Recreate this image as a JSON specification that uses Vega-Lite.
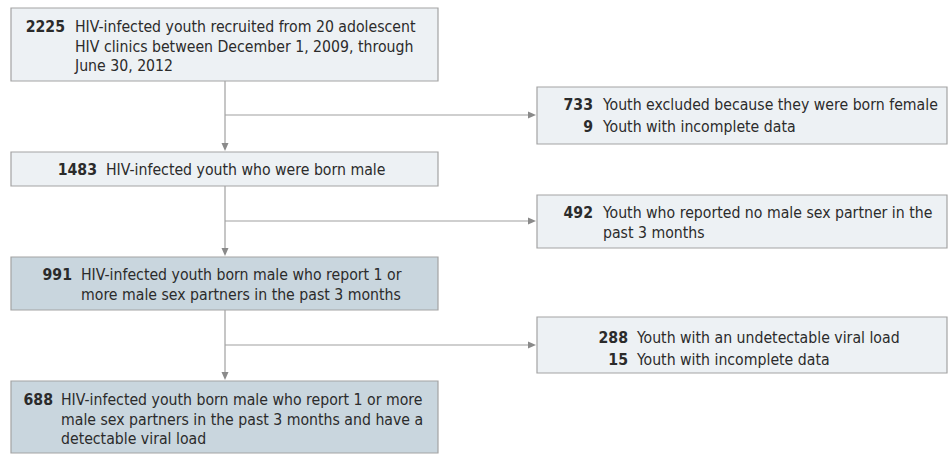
{
  "$schema": "https://vega.github.io/schema/vega-lite/v6.json",
  "width": 952,
  "height": 454,
  "autosize": {"type": "fit", "contains": "padding"},
  "padding": 0,
  "background": "white",
  "config": {"view": {"stroke": null}},
  "datasets": {
    "boxes": [
      {"id": "recruited", "x": 11, "x2": 438, "y": 8, "y2": 81, "tone": "light"},
      {"id": "male", "x": 11, "x2": 438, "y": 152, "y2": 186, "tone": "light"},
      {"id": "msm", "x": 11, "x2": 438, "y": 257, "y2": 310, "tone": "dark"},
      {"id": "final", "x": 11, "x2": 438, "y": 381, "y2": 453, "tone": "dark"},
      {"id": "excl1", "x": 537, "x2": 947, "y": 87, "y2": 144, "tone": "light"},
      {"id": "excl2", "x": 537, "x2": 947, "y": 195, "y2": 248, "tone": "light"},
      {"id": "excl3", "x": 537, "x2": 947, "y": 317, "y2": 373, "tone": "light"}
    ],
    "links": [
      {"x": 225, "x2": 225, "y": 81, "y2": 146},
      {"x": 225, "x2": 225, "y": 186, "y2": 251},
      {"x": 225, "x2": 225, "y": 310, "y2": 375},
      {"x": 225, "x2": 530, "y": 115, "y2": 115},
      {"x": 225, "x2": 530, "y": 221, "y2": 221},
      {"x": 225, "x2": 530, "y": 345, "y2": 345}
    ],
    "heads": [
      {"x": 225, "y": 151, "dir": "down"},
      {"x": 225, "y": 256, "dir": "down"},
      {"x": 225, "y": 380, "dir": "down"},
      {"x": 536, "y": 115, "dir": "right"},
      {"x": 536, "y": 221, "dir": "right"},
      {"x": 536, "y": 345, "dir": "right"}
    ],
    "counts": [
      {"x": 65, "y": 32, "n": "2225"},
      {"x": 97, "y": 175, "n": "1483"},
      {"x": 72, "y": 280, "n": "991"},
      {"x": 53, "y": 405, "n": "688"},
      {"x": 593, "y": 110, "n": "733"},
      {"x": 593, "y": 132, "n": "9"},
      {"x": 593, "y": 218, "n": "492"},
      {"x": 628, "y": 343, "n": "288"},
      {"x": 628, "y": 365, "n": "15"}
    ],
    "labels": [
      {"x": 75, "y": 32, "t": "HIV-infected youth recruited from 20 adolescent"},
      {"x": 75, "y": 51.5, "t": "HIV clinics between December 1, 2009, through"},
      {"x": 75, "y": 71, "t": "June 30, 2012"},
      {"x": 106, "y": 175, "t": "HIV-infected youth who were born male"},
      {"x": 81, "y": 280, "t": "HIV-infected youth born male who report 1 or"},
      {"x": 81, "y": 299.5, "t": "more male sex partners in the past 3 months"},
      {"x": 61, "y": 405, "t": "HIV-infected youth born male who report 1 or more"},
      {"x": 61, "y": 424.5, "t": "male sex partners in the past 3 months and have a"},
      {"x": 61, "y": 444, "t": "detectable viral load"},
      {"x": 603, "y": 110, "t": "Youth excluded because they were born female"},
      {"x": 603, "y": 132, "t": "Youth with incomplete data"},
      {"x": 603, "y": 218, "t": "Youth who reported no male sex partner in the"},
      {"x": 603, "y": 237.5, "t": "past 3 months"},
      {"x": 637, "y": 343, "t": "Youth with an undetectable viral load"},
      {"x": 637, "y": 365, "t": "Youth with incomplete data"}
    ]
  },
  "resolve": {"scale": {"color": "independent", "shape": "independent"}},
  "layer": [
    {
      "data": {"name": "links"},
      "mark": {"type": "rule", "color": "#a0a0a0", "strokeWidth": 1.2},
      "encoding": {
        "x": {"field": "x", "type": "quantitative", "scale": {"domain": [0, 952], "nice": false, "zero": false}, "axis": null},
        "x2": {"field": "x2"},
        "y": {"field": "y", "type": "quantitative", "scale": {"domain": [0, 454], "nice": false, "zero": false, "reverse": true}, "axis": null},
        "y2": {"field": "y2"}
      }
    },
    {
      "data": {"name": "boxes"},
      "mark": {"type": "rect", "stroke": "#a3a3a3", "strokeWidth": 1.2},
      "encoding": {
        "x": {"field": "x", "type": "quantitative", "axis": null},
        "x2": {"field": "x2"},
        "y": {"field": "y", "type": "quantitative", "axis": null},
        "y2": {"field": "y2"},
        "color": {"field": "tone", "type": "nominal", "scale": {"domain": ["light", "dark"], "range": ["#edf1f4", "#c9d6de"]}, "legend": null}
      }
    },
    {
      "data": {"name": "heads"},
      "mark": {"type": "point", "filled": true, "color": "#8a8a8a", "size": 64, "opacity": 1, "strokeWidth": 0},
      "encoding": {
        "x": {"field": "x", "type": "quantitative", "axis": null},
        "y": {"field": "y", "type": "quantitative", "axis": null},
        "shape": {"field": "dir", "type": "nominal", "scale": {"domain": ["down", "right"], "range": ["M-0.875,-2L0.875,-2L0,0Z", "M-2,-0.875L-2,0.875L0,0Z"]}, "legend": null}
      }
    },
    {
      "data": {"name": "counts"},
      "mark": {"type": "text", "align": "right", "baseline": "alphabetic", "font": "DejaVu Sans Condensed, Roboto, sans-serif", "fontSize": 15.7, "fontWeight": "bold", "color": "#2b2b2b"},
      "encoding": {
        "x": {"field": "x", "type": "quantitative", "axis": null},
        "y": {"field": "y", "type": "quantitative", "axis": null},
        "text": {"field": "n", "type": "nominal"}
      }
    },
    {
      "data": {"name": "labels"},
      "mark": {"type": "text", "align": "left", "baseline": "alphabetic", "font": "DejaVu Sans Condensed, Roboto, sans-serif", "fontSize": 15.7, "color": "#2b2b2b"},
      "encoding": {
        "x": {"field": "x", "type": "quantitative", "axis": null},
        "y": {"field": "y", "type": "quantitative", "axis": null},
        "text": {"field": "t", "type": "nominal"}
      }
    }
  ]
}
